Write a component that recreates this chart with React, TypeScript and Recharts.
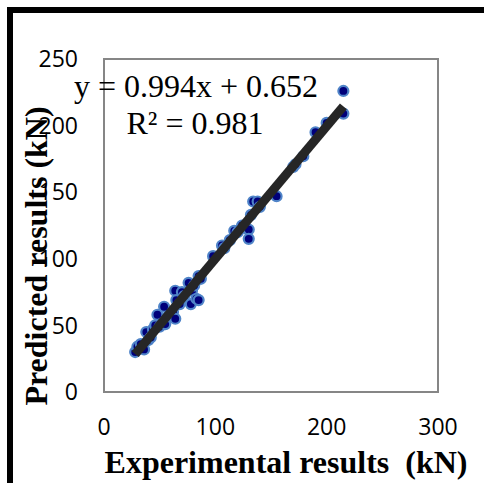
import { ComposedChart, Scatter, XAxis, YAxis, ReferenceArea } from "recharts";

const experimental = [
  28, 30, 33, 36, 38, 40, 42, 44, 46, 48, 50, 53, 54, 55, 58, 62, 64, 64, 65, 68,
  70, 72, 76, 78, 79, 81, 83, 85, 85, 87, 98, 106, 108, 113, 117, 120, 124, 127,
  130, 130, 132, 134, 138, 140, 155, 170, 172, 179, 190, 200, 215, 215,
];
const predicted = [
  30, 34, 36, 32, 45, 39, 41, 47, 50, 58, 49, 52, 64, 51, 57, 60, 55, 76, 69, 66,
  75, 72, 82, 66, 76, 80, 70, 69, 87, 85, 102, 110, 108, 114, 121, 120, 125, 123,
  122, 115, 133, 143, 143, 139, 147, 169, 171, 177, 195, 202, 209, 226,
];

const xTicks = [0, 100, 200, 300];
const yTicks = [0, 50, 100, 150, 200, 250];

const slope = 0.994;
const intercept = 0.652;
const rSquared = 0.981;

const points = experimental.map((x, i) => ({ x, y: predicted[i] }));
const xMin = Math.min(...experimental);
const xMax = Math.max(...experimental);
const trend = [xMin, xMax].map((x) => ({ x, y: slope * x + intercept }));

const tickStyle = { fontFamily: "'Open Sans', sans-serif", fontSize: 23, fill: "#000" };
const serif = "'Liberation Serif', 'Times New Roman', serif";

function Dot(props: any) {
  const { cx, cy } = props;
  return <circle cx={cx} cy={cy} r={5} fill="#00007a" stroke="#4f84c8" strokeWidth={2.2} />;
}

export default function App() {
  return (
    <div
      style={{
        position: "absolute",
        left: 0,
        top: 0,
        width: 484,
        height: 483,
        background: "#fff",
        overflow: "hidden",
      }}
    >
      <div
        style={{
          position: "absolute",
          left: 7,
          top: 7,
          width: 500,
          height: 500,
          border: "6px solid #000",
        }}
      />
      <ComposedChart
        width={484}
        height={483}
        margin={{ top: 59, right: 46, bottom: 0, left: 0 }}
        style={{ position: "absolute", left: 0, top: 0 }}
      >
        <XAxis
          type="number"
          dataKey="x"
          domain={[0, 300]}
          ticks={xTicks}
          height={91}
          axisLine={false}
          tickLine={false}
          tickMargin={21}
          tick={tickStyle}
        />
        <YAxis
          type="number"
          dataKey="y"
          domain={[0, 250]}
          ticks={yTicks}
          width={104}
          axisLine={false}
          tickLine={false}
          tickMargin={20}
          tick={tickStyle}
        />
        <ReferenceArea
          x1={0}
          x2={300}
          y1={0}
          y2={250}
          fill="none"
          stroke="#868686"
          strokeWidth={2}
          ifOverflow="visible"
        />
        <Scatter data={points} shape={<Dot />} isAnimationActive={false} />
        <Scatter
          data={trend}
          line={{ stroke: "#262626", strokeWidth: 9 }}
          shape={() => <g />}
          isAnimationActive={false}
        />
      </ComposedChart>
      <svg
        width={484}
        height={483}
        style={{ position: "absolute", left: 0, top: 0, pointerEvents: "none" }}
      >
        <text x={196} y={97} textAnchor="middle" fontFamily={serif} fontSize={32} fill="#000">
          {`y = ${slope}x + ${intercept}`}
        </text>
        <text x={195} y={134} textAnchor="middle" fontFamily={serif} fontSize={32} fill="#000">
          {`R² = ${rSquared}`}
        </text>
        <text
          x={286}
          y={473}
          textAnchor="middle"
          fontFamily={serif}
          fontSize={32}
          fontWeight="bold"
          fill="#000"
          style={{ whiteSpace: "pre" }}
        >
          Experimental results  (kN)
        </text>
        <text
          x={47}
          y={256}
          textAnchor="middle"
          fontFamily={serif}
          fontSize={32}
          fontWeight="bold"
          fill="#000"
          transform="rotate(-90 47 256)"
        >
          Predicted results (kN)
        </text>
      </svg>
    </div>
  );
}
